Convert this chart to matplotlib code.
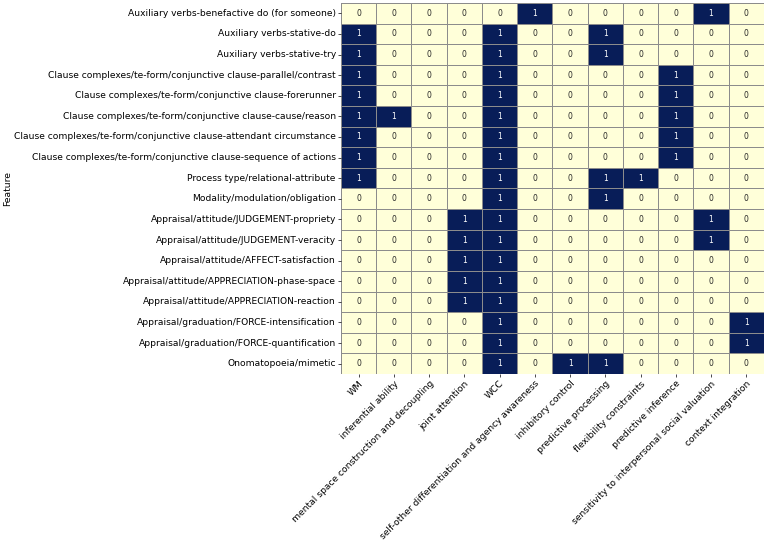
import matplotlib
matplotlib.use("Agg")
import matplotlib.pyplot as plt
import seaborn as sns
import numpy as np
import pandas as pd

features = [
    "Auxiliary verbs-benefactive do (for someone)",
    "Auxiliary verbs-stative-do",
    "Auxiliary verbs-stative-try",
    "Clause complexes/te-form/conjunctive clause-parallel/contrast",
    "Clause complexes/te-form/conjunctive clause-forerunner",
    "Clause complexes/te-form/conjunctive clause-cause/reason",
    "Clause complexes/te-form/conjunctive clause-attendant circumstance",
    "Clause complexes/te-form/conjunctive clause-sequence of actions",
    "Process type/relational-attribute",
    "Modality/modulation/obligation",
    "Appraisal/attitude/JUDGEMENT-propriety",
    "Appraisal/attitude/JUDGEMENT-veracity",
    "Appraisal/attitude/AFFECT-satisfaction",
    "Appraisal/attitude/APPRECIATION-phase-space",
    "Appraisal/attitude/APPRECIATION-reaction",
    "Appraisal/graduation/FORCE-intensification",
    "Appraisal/graduation/FORCE-quantification",
    "Onomatopoeia/mimetic",
]

abilities = [
    "WM", "inferential ability", "mental space construction and decoupling",
    "joint attention", "WCC", "self-other differentiation and agency awareness",
    "inhibitory control", "predictive processing", "flexibility constraints",
    "predictive inference", "sensitivity to interpersonal social valuation",
    "context integration",
]

matrix = [
    [0, 0, 0, 0, 0, 1, 0, 0, 0, 0, 1, 0],
    [1, 0, 0, 0, 1, 0, 0, 1, 0, 0, 0, 0],
    [1, 0, 0, 0, 1, 0, 0, 1, 0, 0, 0, 0],
    [1, 0, 0, 0, 1, 0, 0, 0, 0, 1, 0, 0],
    [1, 0, 0, 0, 1, 0, 0, 0, 0, 1, 0, 0],
    [1, 1, 0, 0, 1, 0, 0, 0, 0, 1, 0, 0],
    [1, 0, 0, 0, 1, 0, 0, 0, 0, 1, 0, 0],
    [1, 0, 0, 0, 1, 0, 0, 0, 0, 1, 0, 0],
    [1, 0, 0, 0, 1, 0, 0, 1, 1, 0, 0, 0],
    [0, 0, 0, 0, 1, 0, 0, 1, 0, 0, 0, 0],
    [0, 0, 0, 1, 1, 0, 0, 0, 0, 0, 1, 0],
    [0, 0, 0, 1, 1, 0, 0, 0, 0, 0, 1, 0],
    [0, 0, 0, 1, 1, 0, 0, 0, 0, 0, 0, 0],
    [0, 0, 0, 1, 1, 0, 0, 0, 0, 0, 0, 0],
    [0, 0, 0, 1, 1, 0, 0, 0, 0, 0, 0, 0],
    [0, 0, 0, 0, 1, 0, 0, 0, 0, 0, 0, 1],
    [0, 0, 0, 0, 1, 0, 0, 0, 0, 0, 0, 1],
    [0, 0, 0, 0, 1, 0, 1, 1, 0, 0, 0, 0],
]

df = pd.DataFrame(np.array(matrix), index=features, columns=abilities)

fig = plt.figure(figsize=(7.67, 5.45), dpi=100)
ax = fig.add_axes([0.4446, 0.3138, 0.5514, 0.6807])
sns.heatmap(df, ax=ax, cmap="YlGnBu", cbar=False, annot=True, fmt="d",
            annot_kws={"size": 5.5}, linewidths=0.6, linecolor="#8c8c8c")

ax.set_ylabel("Feature", fontsize=6.7)
ax.yaxis.set_label_coords(-0.778, 0.5)
ax.set_xlabel("")
ax.set_xticklabels(ax.get_xticklabels(), rotation=45, ha="right",
                   rotation_mode="anchor", fontsize=6.6)
ax.set_yticklabels(ax.get_yticklabels(), rotation=0, fontsize=6.6)
ax.tick_params(length=2.2, width=0.5, pad=1.5)

fig.savefig("out.png", dpi=100)
